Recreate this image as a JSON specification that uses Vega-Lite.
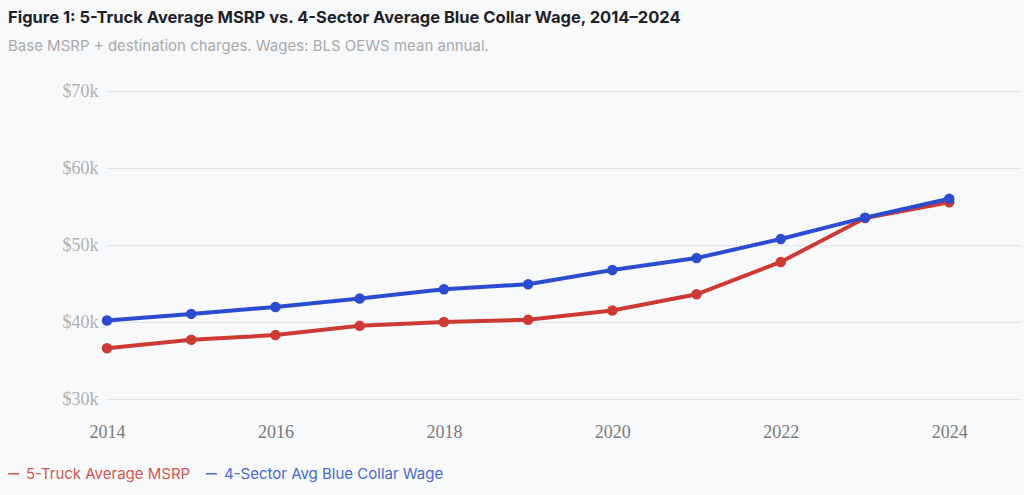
{
  "$schema": "https://vega.github.io/schema/vega-lite/v6.json",
  "autosize": {"type": "none"},
  "width": 913,
  "height": 308,
  "padding": {"left": 107, "top": 91, "right": 4, "bottom": 96},
  "background": "#f8f9fb",
  "title": {
    "text": "Figure 1: 5-Truck Average MSRP vs. 4-Sector Average Blue Collar Wage, 2014\u20132024",
    "subtitle": "Base MSRP + destination charges. Wages: BLS OEWS mean annual.",
    "anchor": "start",
    "frame": "group",
    "dx": -99,
    "offset": 28,
    "font": "Inter",
    "fontSize": 16.5,
    "fontWeight": "bold",
    "color": "#1f2328",
    "subtitleFont": "Inter",
    "subtitleFontSize": 15,
    "subtitleColor": "#aaaaaa",
    "subtitlePadding": 13
  },
  "data": {
    "values": [
      {"year": 2014, "series": "5-Truck Average MSRP", "value": 36600},
      {"year": 2015, "series": "5-Truck Average MSRP", "value": 37700},
      {"year": 2016, "series": "5-Truck Average MSRP", "value": 38300},
      {"year": 2017, "series": "5-Truck Average MSRP", "value": 39500},
      {"year": 2018, "series": "5-Truck Average MSRP", "value": 40000},
      {"year": 2019, "series": "5-Truck Average MSRP", "value": 40300},
      {"year": 2020, "series": "5-Truck Average MSRP", "value": 41500},
      {"year": 2021, "series": "5-Truck Average MSRP", "value": 43600},
      {"year": 2022, "series": "5-Truck Average MSRP", "value": 47800},
      {"year": 2023, "series": "5-Truck Average MSRP", "value": 53500},
      {"year": 2024, "series": "5-Truck Average MSRP", "value": 55550},
      {"year": 2014, "series": "4-Sector Avg Blue Collar Wage", "value": 40200},
      {"year": 2015, "series": "4-Sector Avg Blue Collar Wage", "value": 41050},
      {"year": 2016, "series": "4-Sector Avg Blue Collar Wage", "value": 41950},
      {"year": 2017, "series": "4-Sector Avg Blue Collar Wage", "value": 43050},
      {"year": 2018, "series": "4-Sector Avg Blue Collar Wage", "value": 44250},
      {"year": 2019, "series": "4-Sector Avg Blue Collar Wage", "value": 44900},
      {"year": 2020, "series": "4-Sector Avg Blue Collar Wage", "value": 46750},
      {"year": 2021, "series": "4-Sector Avg Blue Collar Wage", "value": 48300},
      {"year": 2022, "series": "4-Sector Avg Blue Collar Wage", "value": 50780},
      {"year": 2023, "series": "4-Sector Avg Blue Collar Wage", "value": 53550},
      {"year": 2024, "series": "4-Sector Avg Blue Collar Wage", "value": 56000}
    ]
  },
  "mark": {
    "type": "line",
    "strokeWidth": 4,
    "point": {"filled": true, "size": 110, "opacity": 1}
  },
  "encoding": {
    "x": {
      "field": "year",
      "type": "quantitative",
      "scale": {"domain": [2014, 2024.84], "nice": false, "zero": false},
      "axis": {
        "values": [2014, 2016, 2018, 2020, 2022, 2024],
        "format": "d",
        "title": null,
        "grid": false,
        "domain": false,
        "ticks": false,
        "labelFlush": false,
        "labelPadding": 24,
        "labelFont": "Liberation Serif",
        "labelFontSize": 18,
        "labelColor": "#7a7a7a"
      }
    },
    "y": {
      "field": "value",
      "type": "quantitative",
      "scale": {"domain": [30000, 70000], "nice": false, "zero": false},
      "axis": {
        "values": [30000, 40000, 50000, 60000, 70000],
        "labelExpr": "'$' + datum.value / 1000 + 'k'",
        "title": null,
        "domain": false,
        "ticks": false,
        "gridColor": "#e3e5e9",
        "gridWidth": 1.2,
        "labelPadding": 9,
        "labelFont": "Liberation Serif",
        "labelFontSize": 18,
        "labelColor": "#b0b0b0"
      }
    },
    "color": {
      "field": "series",
      "type": "nominal",
      "sort": ["5-Truck Average MSRP", "4-Sector Avg Blue Collar Wage"],
      "scale": {
        "domain": ["5-Truck Average MSRP", "4-Sector Avg Blue Collar Wage"],
        "range": ["#cc3a33", "#2b4ccf"]
      },
      "legend": {
        "title": null,
        "orient": "none",
        "legendX": -101,
        "legendY": 375,
        "direction": "horizontal",
        "symbolType": "stroke",
        "symbolSize": 120,
        "symbolStrokeWidth": 1.5,
        "symbolOpacity": 0.85,
        "labelFont": "Inter",
        "labelFontSize": 15,
        "labelLimit": 400,
        "labelOffset": 5,
        "columnPadding": 12,
        "encode": {
          "labels": {"update": {"fill": {"scale": "color", "field": "value"}, "opacity": {"value": 0.85}}}
        }
      }
    }
  },
  "config": {"view": {"stroke": null}}
}
